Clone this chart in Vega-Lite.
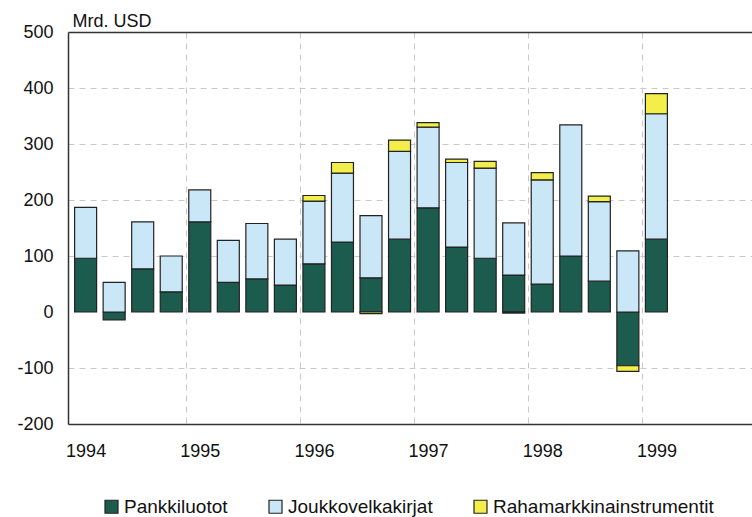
{
  "$schema": "https://vega.github.io/schema/vega-lite/v6.json",
  "autosize": {"type": "none"},
  "padding": {"left": 68, "top": 32, "right": 0, "bottom": 93},
  "width": 684,
  "height": 392,
  "background": "white",
  "config": {
    "view": {"stroke": null},
    "font": "Liberation Sans",
    "axis": {"labelFont": "Liberation Sans", "titleFont": "Liberation Sans", "labelColor": "#111", "titleColor": "#111"},
    "legend": {"labelFont": "Liberation Sans", "labelColor": "#111"}
  },
  "data": {
    "values": [
      {"t": 1994.00, "series": "Pankkiluotot", "value": 96},
      {"t": 1994.00, "series": "Joukkovelkakirjat", "value": 91},
      {"t": 1994.25, "series": "Pankkiluotot", "value": -14},
      {"t": 1994.25, "series": "Joukkovelkakirjat", "value": 53},
      {"t": 1994.50, "series": "Pankkiluotot", "value": 77},
      {"t": 1994.50, "series": "Joukkovelkakirjat", "value": 84},
      {"t": 1994.75, "series": "Pankkiluotot", "value": 36},
      {"t": 1994.75, "series": "Joukkovelkakirjat", "value": 64},
      {"t": 1995.00, "series": "Pankkiluotot", "value": 161},
      {"t": 1995.00, "series": "Joukkovelkakirjat", "value": 57},
      {"t": 1995.25, "series": "Pankkiluotot", "value": 53},
      {"t": 1995.25, "series": "Joukkovelkakirjat", "value": 75},
      {"t": 1995.50, "series": "Pankkiluotot", "value": 59},
      {"t": 1995.50, "series": "Joukkovelkakirjat", "value": 99},
      {"t": 1995.75, "series": "Pankkiluotot", "value": 48},
      {"t": 1995.75, "series": "Joukkovelkakirjat", "value": 82},
      {"t": 1996.00, "series": "Pankkiluotot", "value": 86},
      {"t": 1996.00, "series": "Joukkovelkakirjat", "value": 112},
      {"t": 1996.00, "series": "Rahamarkkinainstrumentit", "value": 10},
      {"t": 1996.25, "series": "Pankkiluotot", "value": 125},
      {"t": 1996.25, "series": "Joukkovelkakirjat", "value": 123},
      {"t": 1996.25, "series": "Rahamarkkinainstrumentit", "value": 19},
      {"t": 1996.50, "series": "Pankkiluotot", "value": 61},
      {"t": 1996.50, "series": "Joukkovelkakirjat", "value": 111},
      {"t": 1996.50, "series": "Rahamarkkinainstrumentit", "value": -3},
      {"t": 1996.75, "series": "Pankkiluotot", "value": 130},
      {"t": 1996.75, "series": "Joukkovelkakirjat", "value": 157},
      {"t": 1996.75, "series": "Rahamarkkinainstrumentit", "value": 20},
      {"t": 1997.00, "series": "Pankkiluotot", "value": 186},
      {"t": 1997.00, "series": "Joukkovelkakirjat", "value": 144},
      {"t": 1997.00, "series": "Rahamarkkinainstrumentit", "value": 8},
      {"t": 1997.25, "series": "Pankkiluotot", "value": 116},
      {"t": 1997.25, "series": "Joukkovelkakirjat", "value": 151},
      {"t": 1997.25, "series": "Rahamarkkinainstrumentit", "value": 6},
      {"t": 1997.50, "series": "Pankkiluotot", "value": 96},
      {"t": 1997.50, "series": "Joukkovelkakirjat", "value": 161},
      {"t": 1997.50, "series": "Rahamarkkinainstrumentit", "value": 12},
      {"t": 1997.75, "series": "Pankkiluotot", "value": 66},
      {"t": 1997.75, "series": "Joukkovelkakirjat", "value": 93},
      {"t": 1997.75, "series": "Rahamarkkinainstrumentit", "value": -2},
      {"t": 1998.00, "series": "Pankkiluotot", "value": 50},
      {"t": 1998.00, "series": "Joukkovelkakirjat", "value": 186},
      {"t": 1998.00, "series": "Rahamarkkinainstrumentit", "value": 13},
      {"t": 1998.25, "series": "Pankkiluotot", "value": 100},
      {"t": 1998.25, "series": "Joukkovelkakirjat", "value": 234},
      {"t": 1998.50, "series": "Pankkiluotot", "value": 55},
      {"t": 1998.50, "series": "Joukkovelkakirjat", "value": 142},
      {"t": 1998.50, "series": "Rahamarkkinainstrumentit", "value": 10},
      {"t": 1998.75, "series": "Pankkiluotot", "value": -96},
      {"t": 1998.75, "series": "Joukkovelkakirjat", "value": 109},
      {"t": 1998.75, "series": "Rahamarkkinainstrumentit", "value": -10},
      {"t": 1999.00, "series": "Pankkiluotot", "value": 130},
      {"t": 1999.00, "series": "Joukkovelkakirjat", "value": 224},
      {"t": 1999.00, "series": "Rahamarkkinainstrumentit", "value": 36}
    ]
  },
  "transform": [
    {"calculate": "indexof(['Pankkiluotot','Joukkovelkakirjat','Rahamarkkinainstrumentit'], datum.series)", "as": "stackOrder"}
  ],
  "mark": {"type": "bar", "size": 22, "stroke": "#222", "strokeWidth": 1.2},
  "encoding": {
    "x": {
      "field": "t",
      "type": "quantitative",
      "scale": {"domain": [1993.8895, 1999.7937], "nice": false, "zero": false},
      "axis": {
        "title": null,
        "values": [1994, 1995, 1996, 1997, 1998, 1999, 1994.875, 1995.875, 1996.875, 1997.875, 1998.875],
        "labelExpr": "datum.value % 1 == 0 ? format(datum.value, 'd') : ''",
        "labelFontSize": 18,
        "labelPadding": 18,
        "ticks": false,
        "domainColor": "#333",
        "domainWidth": 1.5,
        "grid": true,
        "gridColor": "#c8c8c8",
        "gridDash": [6, 5],
        "gridWidth": 1,
        "gridOpacity": {"condition": {"test": "datum.value % 1 == 0", "value": 0}, "value": 1}
      }
    },
    "y": {
      "field": "value",
      "type": "quantitative",
      "stack": "zero",
      "scale": {"domain": [-200, 500], "nice": false},
      "axis": {
        "values": [-200, -100, 0, 100, 200, 300, 400, 500],
        "labelExpr": "datum.value < 0 ? '-' + abs(datum.value) : '' + datum.value",
        "title": "Mrd. USD",
        "titleAngle": 0,
        "titleX": 4,
        "titleY": -6,
        "titleAlign": "left",
        "titleBaseline": "alphabetic",
        "titleFontSize": 18,
        "titleFontWeight": "normal",
        "labelFontSize": 18,
        "labelPadding": 15,
        "ticks": false,
        "domainColor": "#333",
        "domainWidth": 1.5,
        "grid": true,
        "gridColor": {"condition": {"test": "datum.value == 500", "value": "#333"}, "value": "#c8c8c8"},
        "gridDash": {"condition": {"test": "datum.value == 500", "value": []}, "value": [6, 5]},
        "gridWidth": {"condition": {"test": "datum.value == 500", "value": 1.5}, "value": 1},
        "gridOpacity": {"condition": {"test": "datum.value == 0 || datum.value == -200", "value": 0}, "value": 1}
      }
    },
    "color": {
      "field": "series",
      "type": "nominal",
      "scale": {
        "domain": ["Pankkiluotot", "Joukkovelkakirjat", "Rahamarkkinainstrumentit"],
        "range": ["#1c5c4e", "#c9e7f7", "#f4ee4a"]
      },
      "legend": {
        "title": null,
        "orient": "none",
        "direction": "horizontal",
        "legendX": 34,
        "legendY": 465,
        "symbolType": "square",
        "symbolSize": 169,
        "symbolStrokeColor": "#222",
        "symbolStrokeWidth": 1.2,
        "symbolOpacity": 1,
        "labelFontSize": 19,
        "labelOffset": 3,
        "columnPadding": 38,
        "labelLimit": 400
      }
    },
    "order": {"field": "stackOrder", "type": "quantitative", "sort": "ascending"}
  }
}
